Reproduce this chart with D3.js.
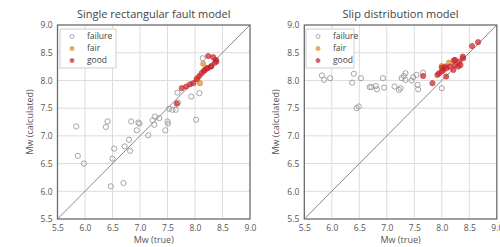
<!DOCTYPE html>
<html>
<head>
<meta charset="utf-8">
<script src="https://cdn.jsdelivr.net/npm/d3@7"></script>
<style>
  body { margin: 0; background: #fff; }
  text { font-family: "Open Sans", sans-serif; }
</style>
</head>
<body>
<div id="chart"></div>
<script>
// ticks shared by both panels
var ticks = [5.5, 6.0, 6.5, 7.0, 7.5, 8.0, 8.5, 9.0]
var categories = ["failure", "fair", "good"]

// Single rectangular fault model
var rectFailureX = [5.84, 5.87, 5.98, 6.38, 6.53, 6.50, 6.47, 6.70, 6.72, 6.80, 6.82, 6.94, 6.99, 7.15, 7.26, 7.46, 7.51,
  6.41, 6.84, 6.97, 7.23, 7.27, 7.35, 7.53, 7.59, 7.65, 7.69, 7.68, 7.93, 8.08, 8.02, 8.14, 7.50]
var rectFailureY = [7.17, 6.64, 6.50, 7.16, 6.77, 6.59, 6.09, 6.15, 6.81, 6.93, 6.73, 7.10, 7.22, 7.01, 7.20, 7.10, 7.22,
  7.26, 7.26, 7.24, 7.28, 7.35, 7.32, 7.49, 7.47, 7.47, 7.60, 7.78, 7.71, 7.77, 7.29, 8.40, 7.26]
var rectFairX = [8.15, 8.09, 8.04]
var rectFairY = [8.30, 7.95, 8.04]
var rectGoodX = [7.67, 7.76, 7.84, 7.91, 7.97, 8.03, 8.08, 8.12, 8.16, 8.18, 8.22, 8.23, 8.29, 8.30, 8.24, 8.33, 8.38, 8.39, 8.36]
var rectGoodY = [7.58, 7.86, 7.89, 7.93, 7.95, 8.02, 8.08, 8.13, 8.17, 8.19, 8.22, 8.22, 8.25, 8.26, 8.44, 8.42, 8.37, 8.34, 8.32]

// Slip distribution model
var slipFailureX = [5.82, 5.86, 5.97, 6.37, 6.40, 6.53, 6.45, 6.49, 6.69, 6.72, 6.80, 6.82, 6.93, 6.95, 7.14, 7.22, 7.25,
  7.27, 7.31, 7.34, 7.34, 7.45, 7.48, 7.54, 7.56, 7.57, 7.66, 8.00]
var slipFailureY = [8.09, 8.01, 8.04, 7.96, 8.12, 8.04, 7.50, 7.53, 7.88, 7.88, 7.90, 7.84, 8.04, 7.87, 7.89, 7.83, 7.86,
  8.04, 8.08, 8.13, 8.01, 8.00, 8.06, 8.10, 7.92, 7.84, 8.14, 7.86]
var slipFairX = [8.13, 8.00]
var slipFairY = [8.32, 8.26]
var slipGoodX = [7.66, 7.83, 7.92, 7.95, 8.00, 8.03, 8.06, 8.09, 8.08, 8.15, 8.21, 8.24, 8.30, 8.32, 8.34, 8.24, 8.39, 8.38,
  8.22, 8.00, 8.55, 8.66]
var slipGoodY = [8.08, 7.95, 8.10, 8.13, 8.23, 8.19, 8.25, 8.22, 8.07, 8.25, 8.19, 8.28, 8.25, 8.34, 8.28, 8.37, 8.40, 8.43,
  8.36, 8.16, 8.62, 8.69]

var width = 500
var height = 247

var svg = d3.select("#chart").append("svg")
  .attr("width", width)
  .attr("height", height)

function zip(xs, ys) {
  return xs.map(function (x, i) { return { x: x, y: ys[i] } })
}

var panels = [
  { title: "Single rectangular fault model", left: 57.5, legendX: 60, legendW: 56,
    series: [zip(rectFailureX, rectFailureY), zip(rectFairX, rectFairY), zip(rectGoodX, rectGoodY)] },
  { title: "Slip distribution model", left: 304.3, legendX: 306, legendW: 48,
    series: [zip(slipFailureX, slipFailureY), zip(slipFairX, slipFairY), zip(slipGoodX, slipGoodY)] }
]

var styles = {
  failure: { fill: "none", stroke: "#9a9a9a", opacity: 1 },
  fair: { fill: "#e8a33c", stroke: "#d08a2a", opacity: 0.85 },
  good: { fill: "#d8282e", stroke: "#b51f27", opacity: 0.75 }
}

var plotTop = 25, plotBottom = 219, plotW = 192.5

panels.forEach(function (p) {
  var x = d3.scaleLinear().domain([5.5, 9.0]).range([p.left, p.left + plotW])
  var y = d3.scaleLinear().domain([5.5, 9.0]).range([plotBottom, plotTop])
  var g = svg.append("g")

  // grid
  g.selectAll(".vg").data(ticks.slice(1, -1)).enter().append("line")
    .attr("x1", function (d) { return x(d) }).attr("x2", function (d) { return x(d) })
    .attr("y1", plotTop).attr("y2", plotBottom)
    .attr("stroke", "#dcdcdc").attr("stroke-width", 1)
  g.selectAll(".hg").data(ticks.slice(1, -1)).enter().append("line")
    .attr("y1", function (d) { return y(d) }).attr("y2", function (d) { return y(d) })
    .attr("x1", p.left).attr("x2", p.left + plotW)
    .attr("stroke", "#dcdcdc").attr("stroke-width", 1)

  // axes
  var xAxis = g.append("g").attr("transform", "translate(0," + plotBottom + ")")
    .call(d3.axisBottom(x).tickValues(ticks).tickFormat(d3.format(".1f")).tickSize(0).tickPadding(6))
  var yAxis = g.append("g").attr("transform", "translate(" + p.left + ",0)")
    .call(d3.axisLeft(y).tickValues(ticks).tickFormat(d3.format(".1f")).tickSize(0).tickPadding(5))
  ;[xAxis, yAxis].forEach(function (a) {
    a.select(".domain").remove()
    a.selectAll("text").attr("fill", "#555").attr("font-size", 8.5)
  })

  // 1:1 line
  g.append("line")
    .attr("x1", x(5.5)).attr("y1", y(5.5)).attr("x2", x(9.0)).attr("y2", y(9.0))
    .attr("stroke", "#8a8a8a").attr("stroke-width", 1)

  // points
  categories.forEach(function (c, i) {
    var s = styles[c]
    g.selectAll(".pt-" + c).data(p.series[i]).enter().append("circle")
      .attr("cx", function (d) { return x(d.x) })
      .attr("cy", function (d) { return y(d.y) })
      .attr("r", 2.6)
      .attr("fill", s.fill)
      .attr("stroke", s.stroke)
      .attr("stroke-width", 0.9)
      .attr("opacity", s.opacity)
  })

  // frame
  g.append("rect")
    .attr("x", p.left).attr("y", plotTop)
    .attr("width", plotW).attr("height", plotBottom - plotTop)
    .attr("fill", "none").attr("stroke", "#6b6b6b").attr("stroke-width", 1.3)

  // legend
  var lg = g.append("g").attr("transform", "translate(" + p.legendX + ",29)")
  lg.append("rect").attr("width", p.legendW).attr("height", 39)
    .attr("fill", "#fff").attr("stroke", "#cfcfcf").attr("stroke-width", 1)
  categories.forEach(function (c, i) {
    var s = styles[c]
    lg.append("circle").attr("cx", 12).attr("cy", 7.5 + i * 12).attr("r", 2)
      .attr("fill", s.fill).attr("stroke", s.stroke).attr("stroke-width", 0.8).attr("opacity", s.opacity)
    lg.append("text").attr("x", 27).attr("y", 7.5 + i * 12).attr("dy", "0.35em")
      .attr("font-size", 8.5).attr("fill", "#444").text(c)
  })

  // titles and labels
  g.append("text").attr("x", p.left + plotW / 2).attr("y", 18)
    .attr("text-anchor", "middle").attr("font-size", 11).attr("fill", "#444").text(p.title)
  g.append("text").attr("x", p.left + plotW / 2).attr("y", 243)
    .attr("text-anchor", "middle").attr("font-size", 9).attr("fill", "#555").text("Mw (true)")
  g.append("text")
    .attr("transform", "translate(" + (p.left - 25) + "," + ((plotTop + plotBottom) / 2) + ") rotate(-90)")
    .attr("text-anchor", "middle").attr("font-size", 9).attr("fill", "#555").text("Mw (calculated)")
})
</script>
</body>
</html>
